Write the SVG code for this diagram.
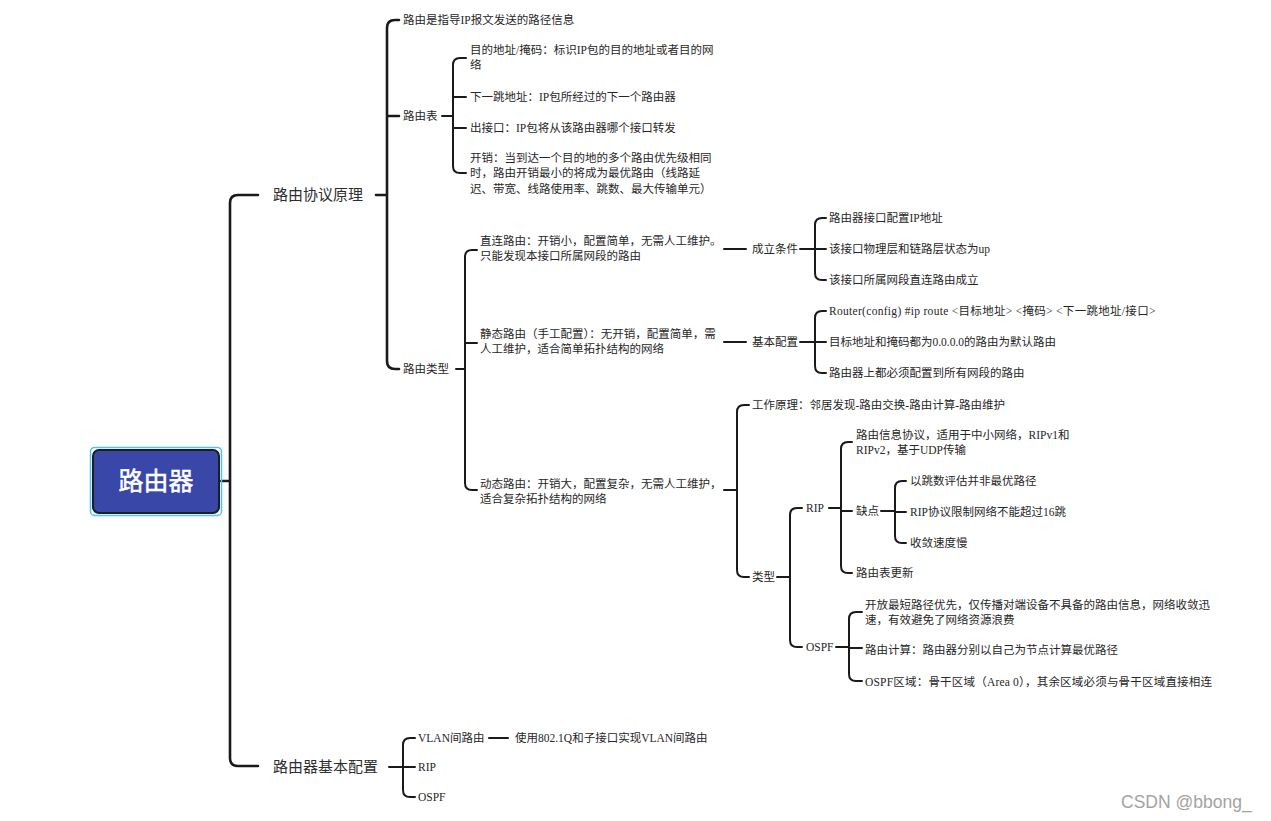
<svg xmlns="http://www.w3.org/2000/svg" width="1271" height="821" viewBox="0 0 1271 821">
<style>
.t{font-family:"Liberation Serif","Noto Sans CJK SC",serif;font-size:11.5px;fill:#262626}
.m{font-family:"Noto Sans CJK SC",sans-serif;font-size:15px;fill:#2e2e2e}
.c1{fill:none;stroke:#1a1a1a;stroke-width:2.6;stroke-linecap:round;stroke-linejoin:round}
.c2{fill:none;stroke:#1a1a1a;stroke-width:2;stroke-linecap:round;stroke-linejoin:round}
.wm{font-family:"Liberation Sans",sans-serif;font-size:17.5px;fill:#a3a3a3}
</style>
<rect width="1271" height="821" fill="#ffffff"/>
<g id="connectors">
<path class="c1" d="M221 481 H230 M258 195 H238 Q230 195 230 203 V758 Q230 766 238 766 H258"/>
<path class="c1" d="M376 195 H387 M399 20 H395 Q387 20 387 28 V361 Q387 369 395 369 H399 M387 116 H399"/>
<path class="c2" d="M442 116 H453 M466 58 H460 Q453 58 453 65 V166 Q453 173 460 173 H466 M453 97 H466 M453 128 H466"/>
<path class="c2" d="M456 369 H465 M477 250 H472 Q465 250 465 257 V483 Q465 490 472 490 H477 M465 343 H477"/>
<path class="c2" d="M724 249 H746 M800 249 H815 M826 218 H822 Q815 218 815 225 V273 Q815 280 822 280 H826 M815 249 H826"/>
<path class="c2" d="M724 342 H746 M800 342 H815 M826 311 H822 Q815 311 815 318 V366 Q815 373 822 373 H826 M815 342 H826"/>
<path class="c2" d="M724 490 H737 M749 405 H744 Q737 405 737 412 V570 Q737 577 744 577 H749"/>
<path class="c2" d="M777 577 H790 M802 508 H797 Q790 508 790 515 V640 Q790 647 797 647 H802"/>
<path class="c2" d="M829 508 H841 M852 442 H848 Q841 442 841 449 V566 Q841 573 848 573 H852 M841 511 H852"/>
<path class="c2" d="M881 511 H895 M906 481 H902 Q895 481 895 488 V536 Q895 543 902 543 H906 M895 512 H906"/>
<path class="c2" d="M836 647 H849 M862 612 H856 Q849 612 849 619 V674 Q849 681 856 681 H862 M849 648 H862"/>
<path class="c2" d="M389 767 H403 M415 738 H410 Q403 738 403 745 V790 Q403 797 410 797 H415 M403 767 H415"/>
<path class="c2" d="M489 738 H508"/>
</g>
<g id="root">
<rect x="90.5" y="447.5" width="131" height="68" rx="4" fill="none" stroke="#4fc3f7" stroke-width="1.5"/>
<rect x="93" y="450" width="126" height="63" rx="6" fill="#3947a9" stroke="#1e1e1e" stroke-width="2"/>
<text x="156" y="490" text-anchor="middle" font-family="Noto Sans CJK SC,sans-serif" font-size="25" fill="#ffffff" stroke="#ffffff" stroke-width="0.5">路由器</text>
</g>
<g id="n-principle"><text class="m" x="273" y="200">路由协议原理</text></g>
<g id="n-basic"><text class="m" x="273" y="772">路由器基本配置</text></g>
<g id="n-def"><text class="t" x="403" y="24">路由是指导IP报文发送的路径信息</text></g>
<g id="n-table"><text class="t" x="403" y="120">路由表</text></g>
<g id="n-t1"><text class="t" x="470" y="54">目的地址/掩码：标识IP包的目的地址或者目的网</text><text class="t" x="470" y="69">络</text></g>
<g id="n-t2"><text class="t" x="470" y="101">下一跳地址：IP包所经过的下一个路由器</text></g>
<g id="n-t3"><text class="t" x="470" y="132">出接口：IP包将从该路由器哪个接口转发</text></g>
<g id="n-t4"><text class="t" x="470" y="162">开销：当到达一个目的地的多个路由优先级相同</text><text class="t" x="470" y="177">时，路由开销最小的将成为最优路由（线路延</text><text class="t" x="470" y="193">迟、带宽、线路使用率、跳数、最大传输单元）</text></g>
<g id="n-types"><text class="t" x="403" y="373">路由类型</text></g>
<g id="n-direct"><text class="t" x="480" y="245">直连路由：开销小，配置简单，无需人工维护。</text><text class="t" x="480" y="260">只能发现本接口所属网段的路由</text></g>
<g id="n-static"><text class="t" x="480" y="338">静态路由（手工配置）：无开销，配置简单，需</text><text class="t" x="480" y="353">人工维护，适合简单拓扑结构的网络</text></g>
<g id="n-dynamic"><text class="t" x="480" y="488">动态路由：开销大，配置复杂，无需人工维护，</text><text class="t" x="480" y="503">适合复杂拓扑结构的网络</text></g>
<g id="n-cond"><text class="t" x="752" y="253">成立条件</text></g>
<g id="n-c1"><text class="t" x="829" y="222">路由器接口配置IP地址</text></g>
<g id="n-c2"><text class="t" x="829" y="253">该接口物理层和链路层状态为up</text></g>
<g id="n-c3"><text class="t" x="829" y="284">该接口所属网段直连路由成立</text></g>
<g id="n-bcfg"><text class="t" x="752" y="346">基本配置</text></g>
<g id="n-b1"><text class="t" x="829" y="315" letter-spacing="0.3">Router(config) #ip route &lt;目标地址&gt; &lt;掩码&gt; &lt;下一跳地址/接口&gt;</text></g>
<g id="n-b2"><text class="t" x="829" y="346">目标地址和掩码都为0.0.0.0的路由为默认路由</text></g>
<g id="n-b3"><text class="t" x="829" y="377">路由器上都必须配置到所有网段的路由</text></g>
<g id="n-work"><text class="t" x="752" y="409">工作原理：邻居发现-路由交换-路由计算-路由维护</text></g>
<g id="n-kind"><text class="t" x="752" y="581">类型</text></g>
<g id="n-rip"><text class="t" x="806" y="512">RIP</text></g>
<g id="n-ospf"><text class="t" x="806" y="651">OSPF</text></g>
<g id="n-r1"><text class="t" x="856" y="439">路由信息协议，适用于中小网络，RIPv1和</text><text class="t" x="856" y="454">RIPv2，基于UDP传输</text></g>
<g id="n-r2"><text class="t" x="856" y="515">缺点</text></g>
<g id="n-r3"><text class="t" x="856" y="577">路由表更新</text></g>
<g id="n-d1"><text class="t" x="910" y="485">以跳数评估并非最优路径</text></g>
<g id="n-d2"><text class="t" x="910" y="516">RIP协议限制网络不能超过16跳</text></g>
<g id="n-d3"><text class="t" x="910" y="547">收敛速度慢</text></g>
<g id="n-o1"><text class="t" x="865" y="609">开放最短路径优先，仅传播对端设备不具备的路由信息，网络收敛迅</text><text class="t" x="865" y="624">速，有效避免了网络资源浪费</text></g>
<g id="n-o2"><text class="t" x="865" y="654">路由计算：路由器分别以自己为节点计算最优路径</text></g>
<g id="n-o3"><text class="t" x="865" y="686" letter-spacing="0.2">OSPF区域：骨干区域（Area 0），其余区域必须与骨干区域直接相连</text></g>
<g id="n-vlan"><text class="t" x="418" y="742">VLAN间路由</text></g>
<g id="n-vlan1"><text class="t" x="515" y="742">使用802.1Q和子接口实现VLAN间路由</text></g>
<g id="n-brip"><text class="t" x="418" y="771">RIP</text></g>
<g id="n-bospf"><text class="t" x="418" y="801">OSPF</text></g>
<text class="wm" x="1121" y="808">CSDN @bbong_</text>
</svg>
